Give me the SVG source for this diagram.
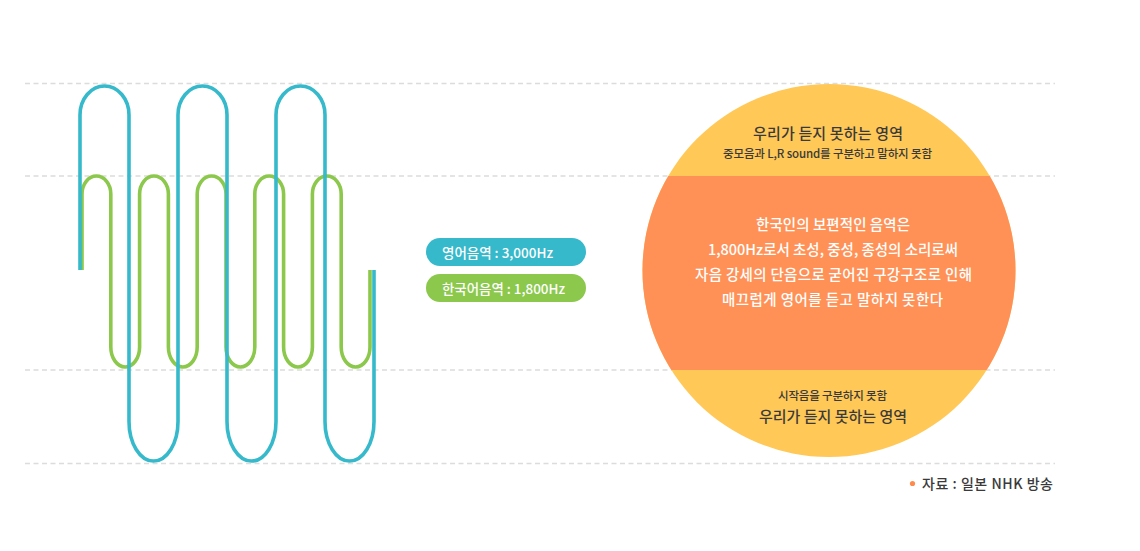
<svg xmlns="http://www.w3.org/2000/svg" width="1140" height="551" viewBox="0 0 1140 551">
<style>
.grid{stroke:#dcdcdc;stroke-width:1.6;stroke-dasharray:5 3.5;fill:none}
.wave{fill:none;stroke-width:3.6;stroke-linejoin:round}
.kr{font-family:"Noto Sans CJK KR","Noto Sans",sans-serif}
.dark{fill:#3a3a3a}
.white{fill:#ffffff}
.t15{font-size:15px;font-weight:500}
.t14{font-size:14.5px;font-weight:500}
.t11{font-size:11.5px;font-weight:500}
.pill{font-size:13.5px;font-weight:500;fill:#ffffff}
</style>
<rect width="1140" height="551" fill="#ffffff"/>
<g id="grid">
<line class="grid" x1="25" y1="83.5" x2="1055" y2="83.5"/>
<line class="grid" x1="25" y1="176" x2="1055" y2="176"/>
<line class="grid" x1="25" y1="370" x2="1055" y2="370"/>
<line class="grid" x1="25" y1="463.5" x2="1055" y2="463.5"/>
</g>
<g id="waves">
<path id="wave-green" class="wave" stroke="#8bc84c" d="M82 270 V194 A14.4 18 0 0 1 110.8 194 V347 A14.4 20 0 0 0 139.6 347 V194 A14.4 18 0 0 1 168.4 194 V347 A14.4 20 0 0 0 197.2 347 V194 A14.4 18 0 0 1 226 194 V347 A14.4 20 0 0 0 254.8 347 V194 A14.4 18 0 0 1 283.6 194 V347 A14.4 20 0 0 0 312.4 347 V194 A14.4 18 0 0 1 341.2 194 V347 A14.4 20 0 0 0 370 347 V270"/>
<path id="wave-blue" class="wave" stroke="#35b9cb" d="M80 270 V115 A24.5 29 0 0 1 129 115 V421.5 A24.5 39.5 0 0 0 178 421.5 V115 A24.5 29 0 0 1 227 115 V421.5 A24.5 39.5 0 0 0 276 421.5 V115 A24.5 29 0 0 1 325 115 V421.5 A24.5 39.5 0 0 0 374 421.5 V270"/>
</g>
<g id="legend-english">
<rect x="426" y="238" width="160" height="28" rx="14" fill="#35b9cb"/>
<text class="kr pill" x="442" y="257.5" textLength="111" lengthAdjust="spacingAndGlyphs">영어음역 : 3,000Hz</text>
</g>
<g id="legend-korean">
<rect x="426" y="274" width="160" height="28" rx="14" fill="#8bc84c"/>
<text class="kr pill" x="442" y="294" textLength="123" lengthAdjust="spacingAndGlyphs">한국어음역 : 1,800Hz</text>
</g>
<defs>
<clipPath id="circ"><circle cx="829" cy="270.5" r="186.5"/></clipPath>
</defs>
<g id="circle">
<g clip-path="url(#circ)">
<rect x="640" y="80" width="380" height="385" fill="#ffc857"/>
<rect x="640" y="176" width="380" height="194" fill="#ff9156"/>
</g>
<text class="kr dark t15" x="753" y="138.5" textLength="150" lengthAdjust="spacing">우리가 듣지 못하는 영역</text>
<text class="kr dark t11" x="723" y="158" textLength="209" lengthAdjust="spacing">중모음과 L,R sound를 구분하고 말하지 못함</text>
<text class="kr white t14" x="756" y="229.5" textLength="154" lengthAdjust="spacing">한국인의 보편적인 음역은</text>
<text class="kr white t14" x="708" y="254.5" textLength="250" lengthAdjust="spacing">1,800Hz로서 초성, 중성, 종성의 소리로써</text>
<text class="kr white t14" x="695" y="279.5" textLength="277" lengthAdjust="spacing">자음 강세의 단음으로 굳어진 구강구조로 인해</text>
<text class="kr white t14" x="722" y="304.5" textLength="221" lengthAdjust="spacing">매끄럽게 영어를 듣고 말하지 못한다</text>
<text class="kr dark t11" x="778" y="399.5" textLength="109" lengthAdjust="spacing">시작음을 구분하지 못함</text>
<text class="kr dark t15" x="759" y="421.5" textLength="148" lengthAdjust="spacing">우리가 듣지 못하는 영역</text>
</g>
<g id="source">
<circle cx="912.5" cy="483.5" r="2.6" fill="#ff8a4c"/>
<text class="kr dark" x="922" y="489" font-size="14" font-weight="500" textLength="131" lengthAdjust="spacing">자료 : 일본 NHK 방송</text>
</g>
</svg>
